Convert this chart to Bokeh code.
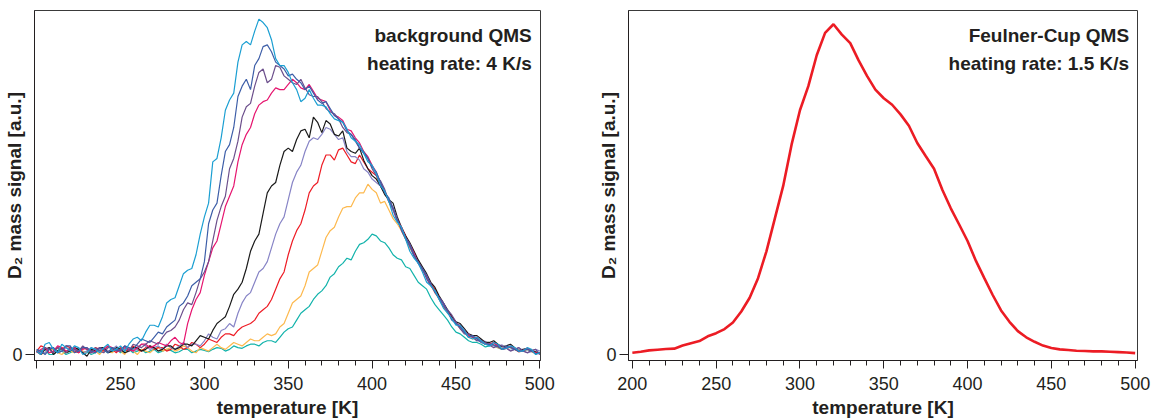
from bokeh.plotting import figure
from bokeh.layouts import row
from bokeh.models import FixedTicker, Label, Range1d
from bokeh.embed import file_html
from bokeh.resources import INLINE

# temperature grid (K) and the half-step readings in between
temperature_K = [200, 205, 210, 215, 220, 225, 230, 235, 240, 245,
                 250, 255, 260, 265, 270, 275, 280, 285, 290, 295,
                 300, 305, 310, 315, 320, 325, 330, 335, 340, 345,
                 350, 355, 360, 365, 370, 375, 380, 385, 390, 395,
                 400, 405, 410, 415, 420, 425, 430, 435, 440, 445,
                 450, 455, 460, 465, 470, 475, 480, 485, 490, 495,
                 500]
temperature_mid_K = [202.5, 207.5, 212.5, 217.5, 222.5, 227.5, 232.5, 237.5, 242.5, 247.5,
                     252.5, 257.5, 262.5, 267.5, 272.5, 277.5, 282.5, 287.5, 292.5, 297.5,
                     302.5, 307.5, 312.5, 317.5, 322.5, 327.5, 332.5, 337.5, 342.5, 347.5,
                     352.5, 357.5, 362.5, 367.5, 372.5, 377.5, 382.5, 387.5, 392.5, 397.5,
                     402.5, 407.5, 412.5, 417.5, 422.5, 427.5, 432.5, 437.5, 442.5, 447.5,
                     452.5, 457.5, 462.5, 467.5, 472.5, 477.5, 482.5, 487.5, 492.5, 497.5]

bg_cyan = [0.010, 0.030, 0.015, 0.030, 0.010, 0.020, 0.005, 0.015, 0.020, 0.010,
           0.025, 0.030, 0.050, 0.065, 0.085, 0.110, 0.160, 0.200, 0.245, 0.290,
           0.400, 0.560, 0.630, 0.740, 0.850, 0.910, 0.940, 0.965, 0.915, 0.840,
           0.820, 0.770, 0.745, 0.745, 0.725, 0.700, 0.680, 0.655, 0.620, 0.585,
           0.550, 0.490, 0.445, 0.385, 0.335, 0.280, 0.240, 0.200, 0.160, 0.120,
           0.085, 0.070, 0.045, 0.040, 0.025, 0.030, 0.018, 0.020, 0.010, 0.015,
           0.005]
bg_cyan_mid = [0.000, 0.035, 0.005, 0.020, 0.025, 0.000, 0.020, 0.005, 0.030, 0.015,
               0.010, 0.045, 0.040, 0.085, 0.080, 0.150, 0.165, 0.235, 0.250, 0.350,
               0.440, 0.570, 0.710, 0.760, 0.900, 0.900, 0.975, 0.950, 0.860, 0.840,
               0.790, 0.735, 0.770, 0.725, 0.720, 0.685, 0.675, 0.630, 0.610, 0.560,
               0.525, 0.475, 0.405, 0.370, 0.300, 0.265, 0.210, 0.185, 0.135, 0.105,
               0.085, 0.050, 0.050, 0.030, 0.035, 0.015, 0.025, 0.010, 0.020, 0.000]

bg_darkblue = [0.015, 0.000, 0.020, 0.010, 0.025, 0.010, 0.020, 0.005, 0.015, 0.020,
               0.010, 0.020, 0.030, 0.040, 0.050, 0.060, 0.090, 0.140, 0.170, 0.210,
               0.270, 0.420, 0.520, 0.610, 0.750, 0.800, 0.840, 0.895, 0.880, 0.840,
               0.810, 0.800, 0.770, 0.760, 0.730, 0.715, 0.685, 0.650, 0.625, 0.585,
               0.545, 0.500, 0.455, 0.390, 0.340, 0.290, 0.250, 0.205, 0.165, 0.125,
               0.090, 0.065, 0.055, 0.035, 0.030, 0.022, 0.025, 0.015, 0.012, 0.010,
               0.005]
bg_darkblue_mid = [0.010, 0.015, 0.005, 0.025, 0.005, 0.020, 0.010, 0.020, 0.005, 0.015,
                   0.025, 0.015, 0.045, 0.035, 0.065, 0.080, 0.100, 0.150, 0.200, 0.220,
                   0.380, 0.440, 0.590, 0.660, 0.780, 0.770, 0.860, 0.900, 0.850, 0.830,
                   0.815, 0.790, 0.780, 0.740, 0.735, 0.695, 0.675, 0.640, 0.600, 0.570,
                   0.530, 0.470, 0.425, 0.365, 0.320, 0.265, 0.230, 0.180, 0.150, 0.100,
                   0.080, 0.050, 0.045, 0.030, 0.028, 0.015, 0.020, 0.008, 0.015, 0.002]

bg_purple = [0.010, 0.020, 0.005, 0.015, 0.020, 0.010, 0.015, 0.020, 0.005, 0.020,
             0.015, 0.010, 0.025, 0.030, 0.035, 0.050, 0.070, 0.100, 0.150, 0.180,
             0.240, 0.330, 0.430, 0.540, 0.620, 0.720, 0.780, 0.830, 0.800, 0.835,
             0.800, 0.785, 0.775, 0.750, 0.735, 0.705, 0.685, 0.645, 0.620, 0.590,
             0.540, 0.505, 0.445, 0.395, 0.335, 0.285, 0.250, 0.200, 0.160, 0.130,
             0.095, 0.060, 0.050, 0.040, 0.028, 0.025, 0.018, 0.015, 0.010, 0.012,
             0.000]
bg_purple_mid = [0.000, 0.015, 0.020, 0.005, 0.015, 0.025, 0.005, 0.010, 0.020, 0.010,
                 0.025, 0.030, 0.020, 0.040, 0.030, 0.065, 0.080, 0.130, 0.145, 0.220,
                 0.270, 0.390, 0.460, 0.570, 0.690, 0.730, 0.820, 0.790, 0.840, 0.810,
                 0.790, 0.800, 0.755, 0.750, 0.715, 0.700, 0.660, 0.640, 0.600, 0.570,
                 0.520, 0.480, 0.425, 0.360, 0.315, 0.270, 0.220, 0.185, 0.140, 0.115,
                 0.075, 0.060, 0.040, 0.035, 0.020, 0.025, 0.010, 0.020, 0.005, 0.015]

bg_magenta = [0.005, 0.020, 0.010, 0.020, 0.015, 0.005, 0.020, 0.010, 0.015, 0.020,
              0.010, 0.015, 0.020, 0.030, 0.025, 0.030, 0.040, 0.035, 0.090, 0.160,
              0.230, 0.310, 0.380, 0.460, 0.560, 0.640, 0.700, 0.735, 0.760, 0.770,
              0.785, 0.790, 0.770, 0.765, 0.740, 0.710, 0.690, 0.655, 0.630, 0.590,
              0.550, 0.500, 0.450, 0.390, 0.340, 0.295, 0.245, 0.205, 0.165, 0.125,
              0.090, 0.070, 0.050, 0.040, 0.030, 0.025, 0.020, 0.018, 0.012, 0.010,
              0.002]
bg_magenta_mid = [0.015, 0.005, 0.025, 0.010, 0.020, 0.015, 0.005, 0.020, 0.025, 0.010,
                  0.020, 0.010, 0.030, 0.020, 0.035, 0.025, 0.050, 0.030, 0.130, 0.180,
                  0.270, 0.330, 0.430, 0.490, 0.610, 0.660, 0.725, 0.740, 0.775, 0.770,
                  0.800, 0.775, 0.785, 0.745, 0.735, 0.695, 0.680, 0.650, 0.615, 0.575,
                  0.530, 0.475, 0.425, 0.370, 0.320, 0.265, 0.230, 0.180, 0.150, 0.105,
                  0.085, 0.055, 0.050, 0.030, 0.035, 0.015, 0.025, 0.010, 0.018, 0.005]

bg_black = [0.010, 0.015, 0.000, 0.020, 0.010, 0.015, -0.005, 0.010, 0.020, 0.010,
            0.015, 0.010, 0.020, 0.015, 0.020, 0.015, 0.025, 0.020, 0.030, 0.040,
            0.050, 0.070, 0.100, 0.140, 0.190, 0.250, 0.330, 0.410, 0.490, 0.550,
            0.600, 0.625, 0.655, 0.690, 0.645, 0.670, 0.635, 0.600, 0.585, 0.565,
            0.520, 0.490, 0.450, 0.400, 0.345, 0.300, 0.255, 0.210, 0.170, 0.130,
            0.095, 0.075, 0.055, 0.045, 0.035, 0.030, 0.025, 0.020, 0.015, 0.010,
            0.005]
bg_black_mid = [0.000, 0.020, 0.010, 0.005, 0.020, 0.005, 0.015, 0.020, 0.005, 0.020,
                0.005, 0.020, 0.010, 0.025, 0.010, 0.025, 0.015, 0.030, 0.025, 0.055,
                0.045, 0.090, 0.110, 0.175, 0.210, 0.300, 0.350, 0.470, 0.500, 0.590,
                0.590, 0.650, 0.630, 0.675, 0.680, 0.640, 0.650, 0.590, 0.600, 0.540,
                0.510, 0.465, 0.440, 0.370, 0.325, 0.275, 0.235, 0.195, 0.150, 0.110,
                0.090, 0.060, 0.055, 0.035, 0.040, 0.022, 0.030, 0.012, 0.018, 0.008]

bg_lavender = [0.015, 0.005, 0.020, 0.010, 0.015, 0.020, 0.010, 0.005, 0.020, 0.015,
               0.010, 0.020, 0.015, 0.025, 0.020, 0.015, 0.020, 0.025, 0.020, 0.030,
               0.040, 0.050, 0.070, 0.090, 0.120, 0.170, 0.210, 0.250, 0.310, 0.380,
               0.450, 0.530, 0.590, 0.630, 0.640, 0.655, 0.625, 0.590, 0.575, 0.540,
               0.510, 0.490, 0.445, 0.390, 0.340, 0.290, 0.245, 0.200, 0.165, 0.125,
               0.090, 0.065, 0.050, 0.040, 0.030, 0.025, 0.020, 0.015, 0.012, 0.008,
               0.010]
bg_lavender_mid = [0.005, 0.020, 0.005, 0.020, 0.010, 0.005, 0.020, 0.015, 0.010, 0.025,
                   0.015, 0.010, 0.030, 0.015, 0.025, 0.030, 0.015, 0.035, 0.030, 0.025,
                   0.060, 0.045, 0.075, 0.080, 0.150, 0.180, 0.240, 0.270, 0.350, 0.400,
                   0.500, 0.550, 0.620, 0.625, 0.660, 0.640, 0.630, 0.575, 0.565, 0.530,
                   0.500, 0.470, 0.420, 0.365, 0.315, 0.270, 0.225, 0.185, 0.145, 0.105,
                   0.075, 0.060, 0.040, 0.038, 0.025, 0.028, 0.012, 0.020, 0.005, 0.015]

bg_red = [0.010, 0.020, 0.010, 0.015, 0.020, 0.005, 0.015, 0.020, 0.010, 0.015,
          0.020, 0.010, 0.015, 0.020, 0.015, 0.020, 0.015, 0.025, 0.020, 0.030,
          0.030, 0.040, 0.050, 0.060, 0.070, 0.085, 0.100, 0.130, 0.160, 0.220,
          0.290, 0.360, 0.420, 0.490, 0.550, 0.580, 0.595, 0.580, 0.555, 0.560,
          0.530, 0.490, 0.445, 0.390, 0.345, 0.290, 0.250, 0.205, 0.165, 0.125,
          0.090, 0.070, 0.050, 0.040, 0.030, 0.025, 0.018, 0.015, 0.010, 0.012,
          0.003]
bg_red_mid = [0.025, 0.005, 0.020, 0.025, 0.010, 0.020, 0.010, 0.015, 0.025, 0.005,
              0.015, 0.025, 0.010, 0.025, 0.020, 0.010, 0.030, 0.015, 0.035, 0.020,
              0.045, 0.035, 0.060, 0.055, 0.080, 0.090, 0.120, 0.140, 0.190, 0.240,
              0.330, 0.380, 0.470, 0.500, 0.580, 0.565, 0.600, 0.560, 0.580, 0.540,
              0.520, 0.470, 0.420, 0.370, 0.315, 0.270, 0.225, 0.190, 0.140, 0.110,
              0.080, 0.055, 0.048, 0.030, 0.035, 0.015, 0.022, 0.008, 0.018, 0.006]

bg_orange = [0.010, 0.005, 0.015, 0.000, 0.010, 0.015, 0.005, 0.010, 0.015, 0.005,
             0.010, 0.020, 0.000, 0.010, 0.015, 0.010, 0.020, 0.015, 0.020, 0.005,
             0.015, 0.020, 0.020, 0.025, 0.030, 0.035, 0.040, 0.050, 0.055, 0.080,
             0.120, 0.160, 0.200, 0.250, 0.300, 0.360, 0.400, 0.430, 0.455, 0.470,
             0.480, 0.440, 0.420, 0.380, 0.335, 0.290, 0.245, 0.200, 0.160, 0.120,
             0.090, 0.065, 0.045, 0.040, 0.030, 0.020, 0.020, 0.015, 0.010, 0.008,
             0.005]
bg_orange_mid = [0.000, 0.015, 0.005, 0.010, 0.005, 0.010, 0.015, 0.000, 0.010, 0.015,
                 0.000, 0.010, 0.015, 0.005, 0.020, 0.015, 0.010, 0.025, 0.010, 0.020,
                 0.010, 0.030, 0.015, 0.035, 0.025, 0.045, 0.040, 0.060, 0.060, 0.090,
                 0.150, 0.170, 0.240, 0.260, 0.340, 0.370, 0.425, 0.430, 0.470, 0.495,
                 0.470, 0.445, 0.395, 0.360, 0.310, 0.270, 0.225, 0.180, 0.140, 0.110,
                 0.075, 0.050, 0.048, 0.030, 0.028, 0.015, 0.020, 0.008, 0.015, 0.002]

bg_teal = [0.005, 0.015, 0.000, 0.010, 0.005, 0.015, 0.010, 0.005, 0.012, 0.010,
           0.005, 0.015, 0.010, 0.005, 0.015, 0.010, 0.012, 0.008, 0.015, 0.010,
           0.012, 0.015, 0.018, 0.015, 0.020, 0.025, 0.030, 0.035, 0.040, 0.050,
           0.075, 0.100, 0.130, 0.160, 0.185, 0.225, 0.255, 0.280, 0.300, 0.325,
           0.350, 0.330, 0.310, 0.280, 0.255, 0.230, 0.200, 0.165, 0.130, 0.100,
           0.065, 0.050, 0.035, 0.030, 0.025, 0.020, 0.020, 0.015, 0.010, 0.012,
           0.005]
bg_teal_mid = [0.010, 0.000, 0.012, 0.000, 0.012, 0.005, 0.000, 0.012, 0.005, 0.015,
               0.010, 0.005, 0.015, 0.010, 0.005, 0.015, 0.005, 0.015, 0.005, 0.015,
               0.008, 0.020, 0.010, 0.025, 0.018, 0.030, 0.025, 0.040, 0.035, 0.065,
               0.080, 0.120, 0.140, 0.175, 0.200, 0.235, 0.265, 0.275, 0.320, 0.335,
               0.345, 0.325, 0.290, 0.275, 0.250, 0.210, 0.190, 0.145, 0.115, 0.080,
               0.060, 0.040, 0.035, 0.022, 0.028, 0.015, 0.022, 0.010, 0.015, 0.002]

feulner_cup = [0.005, 0.008, 0.012, 0.014, 0.016, 0.017, 0.026, 0.033, 0.039, 0.053,
               0.062, 0.074, 0.093, 0.125, 0.165, 0.222, 0.300, 0.395, 0.490, 0.610,
               0.710, 0.780, 0.870, 0.935, 0.960, 0.930, 0.905, 0.855, 0.810, 0.770,
               0.745, 0.726, 0.698, 0.665, 0.615, 0.577, 0.540, 0.478, 0.425, 0.378,
               0.330, 0.272, 0.222, 0.173, 0.128, 0.095, 0.068, 0.050, 0.037, 0.026,
               0.019, 0.015, 0.013, 0.011, 0.010, 0.009, 0.009, 0.008, 0.007, 0.006,
               0.004]

bg_series = [
    (bg_teal, bg_teal_mid, "#12b3ab"),
    (bg_orange, bg_orange_mid, "#fdb94e"),
    (bg_red, bg_red_mid, "#ee1c25"),
    (bg_lavender, bg_lavender_mid, "#8784c6"),
    (bg_black, bg_black_mid, "#1a1a1a"),
    (bg_magenta, bg_magenta_mid, "#e6156f"),
    (bg_purple, bg_purple_mid, "#6c4f8c"),
    (bg_darkblue, bg_darkblue_mid, "#3d5ea8"),
    (bg_cyan, bg_cyan_mid, "#1b9fd2"),
]

x_major = [200, 250, 300, 350, 400, 450, 500]
x_minor = [210, 220, 230, 240, 260, 270, 280, 290, 310, 320, 330, 340,
           360, 370, 380, 390, 410, 420, 430, 440, 460, 470, 480, 490]

FONT = "Liberation Sans"
TXT = "#231f20"
YLABEL = "D\u2082 mass signal [a.u.]"


def interleave(main, mid):
    out = []
    for i in range(len(mid)):
        out.append(main[i])
        out.append(mid[i])
    out.append(main[-1])
    return out


T_all = interleave(temperature_K, temperature_mid_K)


def style(p, hide200):
    p.xaxis.ticker = FixedTicker(ticks=x_major, minor_ticks=x_minor)
    p.yaxis.ticker = FixedTicker(ticks=[0])
    if hide200:
        p.xaxis.major_label_overrides = {200: ""}
    p.xaxis.axis_label = "temperature [K]"
    p.yaxis.axis_label = YLABEL
    for ax in (p.xaxis, p.yaxis):
        ax.axis_label_text_font = FONT
        ax.axis_label_text_font_style = "bold"
        ax.axis_label_text_font_size = "19px"
        ax.axis_label_text_color = TXT
        ax.major_label_text_font = FONT
        ax.major_label_text_font_size = "18px"
        ax.major_label_text_color = TXT
        ax.axis_line_color = TXT
        ax.axis_line_width = 1
        ax.major_tick_line_color = TXT
        ax.minor_tick_line_color = TXT
        ax.major_tick_in = 0
        ax.minor_tick_in = 0
    p.xaxis.axis_label_standoff = 4
    p.xaxis.major_tick_out = 8
    p.xaxis.minor_tick_out = 5
    p.xaxis.major_label_standoff = 8
    p.yaxis.major_tick_out = 9
    p.yaxis.minor_tick_out = 0
    p.yaxis.major_label_standoff = 3
    p.yaxis.axis_label_standoff = -16
    p.xgrid.visible = False
    p.ygrid.visible = False
    p.outline_line_color = "#3a3a3a"
    p.outline_line_width = 1
    p.background_fill_color = "white"
    p.border_fill_color = "white"


def make_fig(width, mbl, mbr, xr):
    p = figure(width=width, height=420, output_backend="svg", toolbar_location=None,
               x_range=Range1d(*xr), y_range=Range1d(-0.0174, 1.0),
               min_border_left=mbl, min_border_right=mbr, min_border_top=10,
               min_border_bottom=59)
    return p


p1 = make_fig(568, 34, 28, (198.7, 500.4))
style(p1, True)
for main, mid, col in bg_series:
    p1.line(T_all, interleave(main, mid), line_color=col, line_width=1.2)

p2 = make_fig(588, 60, 19, (197.7, 501.4))
style(p2, False)
p2.line(temperature_K, feulner_cup, line_color="#ec1c24", line_width=2.6)


def add_text(p, x, y, text):
    p.add_layout(Label(x=x, y=y, text=text, text_align="right", text_baseline="middle",
                       text_font=FONT, text_font_style="bold",
                       text_font_size="19px", text_color=TXT))


add_text(p1, 495.2, 0.928, "background QMS")
add_text(p1, 495.2, 0.845, "heating rate: 4 K/s")
add_text(p2, 496.4, 0.928, "Feulner-Cup QMS")
add_text(p2, 496.4, 0.845, "heating rate: 1.5 K/s")

layout = row(p1, p2)
open("out.html", "w").write(file_html(layout, INLINE))
